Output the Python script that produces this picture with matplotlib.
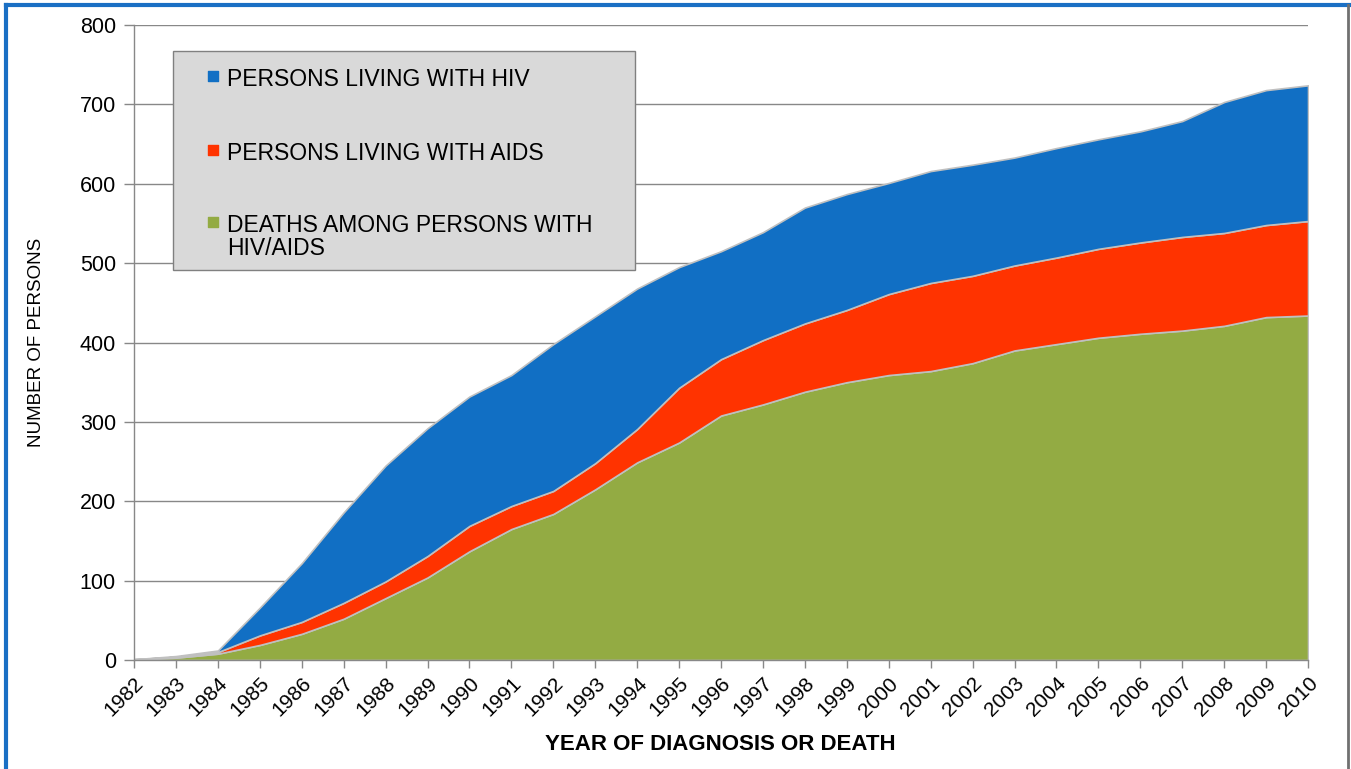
import matplotlib
matplotlib.use("Agg")
import matplotlib.pyplot as plt
from matplotlib.patches import Rectangle
from matplotlib.lines import Line2D

plt.rcParams['font.family'] = ['Liberation Sans', 'DejaVu Sans']

# values (persons per year, stacked)
years = list(range(1982, 2011))
deaths = [1, 3, 8, 19, 33, 52, 78, 104, 137, 165, 184, 215, 249, 274, 308,
          322, 338, 350, 359, 364, 374, 390, 398, 406, 411, 415, 421, 432, 434]
living_aids = [0, 1, 2, 12, 15, 20, 21, 27, 32, 29, 29, 33, 42, 69, 71,
               81, 86, 91, 102, 111, 110, 107, 109, 112, 115, 118, 117, 116, 119]
living_hiv = [0, 1, 2, 35, 74, 114, 146, 161, 163, 165, 185, 185, 177, 152, 136,
              136, 146, 146, 140, 141, 140, 136, 138, 138, 140, 146, 165, 170, 171]

labels = ["PERSONS LIVING WITH HIV", "PERSONS LIVING WITH AIDS",
          "DEATHS AMONG PERSONS WITH\nHIV/AIDS"]
colors = {"hiv": "#116FC4", "aids": "#FF3300", "deaths": "#93AB43"}
y_ticks = [0, 100, 200, 300, 400, 500, 600, 700, 800]

fig = plt.figure(figsize=(13.51, 7.69), dpi=100)
ax = fig.add_axes([0.0992, 0.1417, 0.8690, 0.8258])

ax.stackplot(years, deaths, living_aids, living_hiv,
             colors=[colors["deaths"], colors["aids"], colors["hiv"]],
             edgecolor="#c0c0c0", linewidth=1.2, zorder=3)

ax.set_xlim(1982, 2010)
ax.set_ylim(0, 800)
ax.set_yticks(y_ticks)
ax.set_xticks(years)
ax.set_xticklabels([str(y) for y in years], rotation=45, ha="right", va="top",
                   rotation_mode="anchor", fontsize=15)
ax.tick_params(axis="y", labelsize=15.5, length=7, width=1, color="#888888", pad=6)
ax.tick_params(axis="x", length=6, width=1, color="#888888", pad=4)

ax.grid(axis="y", color="#888888", linewidth=1, zorder=0)
ax.set_axisbelow(True)
for s in ["top", "right"]:
    ax.spines[s].set_visible(False)
for s in ["left", "bottom"]:
    ax.spines[s].set_color("#888888")
    ax.spines[s].set_linewidth(1)
    ax.spines[s].set_zorder(4)

ax.set_xlabel("YEAR OF DIAGNOSIS OR DEATH", fontsize=16, fontweight="bold")
ax.xaxis.set_label_coords(0.499, -0.116)
ax.set_ylabel("NUMBER OF PERSONS", fontsize=13.5)
ax.yaxis.set_label_coords(-0.076, 0.50)

# legend box drawn by hand (the original has widely spaced entries)
ax.add_patch(Rectangle((0.0332, 0.614), 0.3936, 0.345, transform=ax.transAxes,
                       facecolor="#d9d9d9", edgecolor="#808080", linewidth=1, zorder=6))
leg_colors = [colors["hiv"], colors["aids"], colors["deaths"]]
leg_y = [0.9197, 0.803, 0.690]
for lab, c, y in zip(labels, leg_colors, leg_y):
    ax.scatter([0.0673], [y], marker="s", s=50, color=c, transform=ax.transAxes,
               zorder=7, clip_on=False)
    ax.text(0.0792, y + 0.013, lab, transform=ax.transAxes, fontsize=16.5,
            va="top", ha="left", zorder=7, linespacing=1.0)

# outer frame of the original slide
fig.add_artist(Line2D([0.0045, 0.0045], [0, 0.994], color="#1a6fc4", linewidth=3,
                      transform=fig.transFigure))
fig.add_artist(Line2D([0.0045, 1.0], [0.994, 0.994], color="#1a6fc4", linewidth=3,
                      transform=fig.transFigure))
fig.add_artist(Line2D([0.998, 0.998], [0, 0.993], color="#707070", linewidth=2,
                      transform=fig.transFigure))

fig.savefig("out.png", dpi=100)
